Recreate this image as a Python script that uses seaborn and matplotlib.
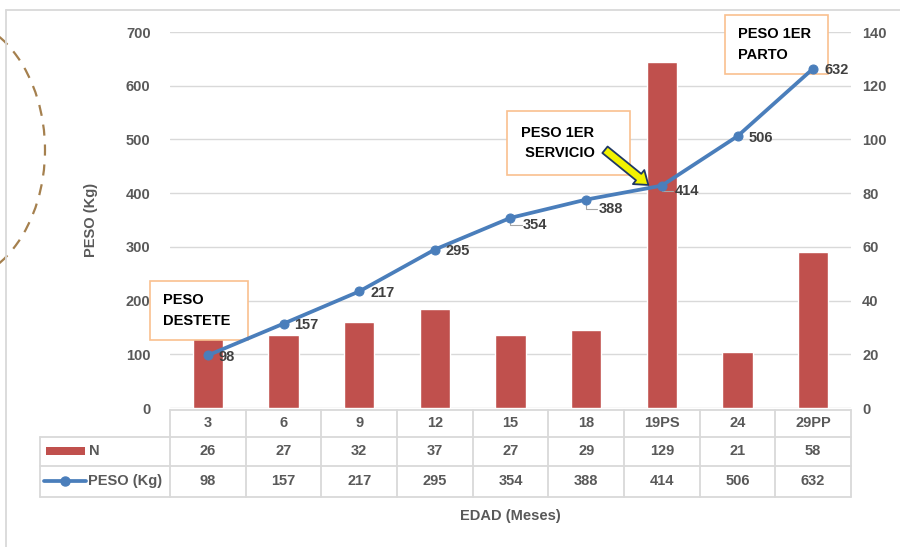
import numpy as np
import seaborn as sns
import matplotlib.pyplot as plt
from matplotlib.patches import Rectangle, Ellipse
from matplotlib.lines import Line2D
from matplotlib.transforms import blended_transform_factory

# === Dati ===
edad = ["3", "6", "9", "12", "15", "18", "19PS", "24", "29PP"]
n_vals = [26, 27, 32, 37, 27, 29, 129, 21, 58]
peso_vals = [98, 157, 217, 295, 354, 388, 414, 506, 632]
peso_ticks = [0, 100, 200, 300, 400, 500, 600, 700]
n_ticks = [0, 20, 40, 60, 80, 100, 120, 140]

RED = "#C0504D"
BLUE = "#4A7EBB"
GREY = "#595959"
GRID = "#D9D9D9"
ORANGE = "#F9C08F"

sns.set_style("white")
plt.rcParams["font.family"] = ["Liberation Sans", "DejaVu Sans"]
plt.rcParams["font.weight"] = "bold"

W, H = 900, 547
fig = plt.figure(figsize=(9, 5.47), dpi=100)


def fx(p):
    return p / W


def fy(p):
    return 1 - p / H


# assi: barre (N) su ax, linea (PESO) su ax2, poi scambio i lati delle etichette
ax = fig.add_axes([fx(170), fy(408), fx(851 - 170), (408 - 32) / H])
ax2 = ax.twinx()

pos = np.arange(len(edad))
sns.barplot(x=pos, y=n_vals, ax=ax, color=RED, width=0.4, saturation=1, native_scale=True)
ax.set_ylim(0, 140)
ax.set_xlim(-0.5, len(edad) - 0.5)
ax.set_yticks(n_ticks)
ax.yaxis.tick_right()
ax.tick_params(axis="y", length=0, pad=8, labelsize=10.5, labelcolor=GREY)
ax.set_xticks([])
ax.grid(axis="y", color=GRID, linewidth=1)
ax.set_axisbelow(True)
for s in ax.spines.values():
    s.set_visible(False)
ax.set_ylabel("")

sns.lineplot(x=pos, y=peso_vals, ax=ax2, color=BLUE, linewidth=2.7, marker="o",
             markersize=6.5, markeredgecolor=BLUE, zorder=3)
ax2.set_ylim(0, 700)
ax2.set_yticks(peso_ticks)
ax2.yaxis.tick_left()
ax2.yaxis.set_label_position("left")
ax2.tick_params(axis="y", length=0, pad=14, labelsize=10.5, labelcolor=GREY)
ax2.set_xticks([])
for s in ax2.spines.values():
    s.set_visible(False)
ax2.set_ylabel("PESO (Kg)", color=GREY, fontsize=10.5, fontweight="bold")
ax2.yaxis.set_label_coords(-0.105, 0.5)

# etichette dati
offs = {4: (9, -5), 5: (9, -7), 6: (9, -4)}
for i, v in enumerate(peso_vals):
    ox, oy = offs.get(i, (8, -1))
    ax2.annotate(str(v), (pos[i], v), xytext=(ox, oy), textcoords="offset points",
                 ha="left", va="center", fontsize=10.5, color="#404040", fontweight="bold",
                 zorder=4)
    if i in offs:
        # piccole linee guida come in Excel
        ax2.annotate("", (pos[i], v), xytext=(ox - 1, oy), textcoords="offset points",
                     arrowprops=dict(arrowstyle="-", color="#A6A6A6", lw=0.8,
                                     connectionstyle="angle,angleA=0,angleB=90,rad=0",
                                     shrinkA=0, shrinkB=3), zorder=2.5)

# riquadri di annotazione (sotto la linea, sopra barre e griglia)
boxes = [
    (150, 281, 248, 340, "PESO\nDESTETE", 163),
    (507, 111, 630, 175, "PESO 1ER\n SERVICIO", 521),
    (725, 15, 828, 74, "PESO 1ER\nPARTO", 738),
]
for x0, y0, x1, y1, txt, tx in boxes:
    ax2.add_patch(Rectangle((fx(x0), fy(y1)), fx(x1 - x0), (y1 - y0) / H,
                            transform=fig.transFigure, fc="white", ec=ORANGE, lw=1.2,
                            zorder=1, clip_on=False))
    ax2.text(fx(tx), fy((y0 + y1) / 2), txt, transform=fig.transFigure, ha="left",
             va="center", fontsize=10.5, color="black", fontweight="bold",
             linespacing=1.55, zorder=1.5, clip_on=False)

# freccia gialla verso 19PS
ax2.annotate("", xy=(5.85, 412), xytext=(5.22, 484),
             arrowprops=dict(arrowstyle="simple,head_width=1.3,head_length=0.9,tail_width=0.6",
                             fc="#F2F200", ec="#1F3864", lw=1.3), zorder=5)

# tabella dati
tr = blended_transform_factory(ax.transData, fig.transFigure)
for yy, xa in [(410, 170), (437, 40), (466, 40), (497, 40)]:
    fig.lines.append(Line2D([fx(xa), fx(851)], [fy(yy), fy(yy)], transform=fig.transFigure,
                            color=GRID, lw=1.3))
fig.lines.append(Line2D([fx(40), fx(40)], [fy(437), fy(497)], transform=fig.transFigure, color=GRID, lw=1.3))
for b in np.arange(len(edad) + 1) - 0.5:
    fig.lines.append(Line2D([b, b], [fy(410), fy(497)], transform=tr, color=GRID, lw=1.3))

for i in range(len(edad)):
    fig.text(pos[i], fy(423), edad[i], transform=tr, ha="center", va="center", fontsize=10.5, color=GREY)
    fig.text(pos[i], fy(451), str(n_vals[i]), transform=tr, ha="center", va="center", fontsize=10.5, color=GREY)
    fig.text(pos[i], fy(481), str(peso_vals[i]), transform=tr, ha="center", va="center", fontsize=10.5, color=GREY)

# legenda nella tabella
fig.patches.append(Rectangle((fx(46), fy(455)), fx(39), 8 / H, transform=fig.transFigure,
                             fc=RED, ec="none"))
fig.text(fx(89), fy(451), "N", ha="left", va="center", fontsize=10.5, color=GREY)
fig.lines.append(Line2D([fx(44), fx(65), fx(86)], [fy(481)] * 3, transform=fig.transFigure,
                        color=BLUE, lw=2.7, marker="o", markersize=6.5, markevery=[1]))
fig.text(fx(88), fy(481), "PESO (Kg)", ha="left", va="center", fontsize=10.5, color=GREY)

fig.text(fx(510), fy(516), "EDAD (Meses)", ha="center", va="center", fontsize=10.5, color=GREY)

# bordo del grafico e arco tratteggiato
fig.lines.append(Line2D([fx(6), fx(900)], [fy(10), fy(10)], transform=fig.transFigure, color=GRID, lw=1.3))
fig.lines.append(Line2D([fx(6), fx(6)], [fy(10), fy(547)], transform=fig.transFigure, color=GRID, lw=1.3))
fig.patches.append(Ellipse((fx(-55), fy(150)), fx(200), 270 / H, transform=fig.transFigure,
                           fill=False, ec="#A5804E", lw=1.6, ls=(0, (5, 4))))

fig.savefig("out.png", dpi=100, facecolor="white")
